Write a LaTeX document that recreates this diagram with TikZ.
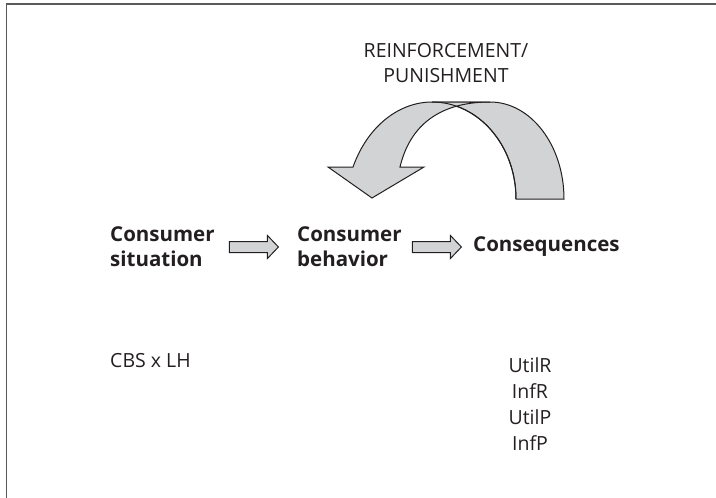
\documentclass[tikz,border=0pt]{standalone}
\usepackage{fontspec}
\setmainfont{Open Sans}
\usetikzlibrary{calc}
\definecolor{bandgray}{HTML}{D1D3D4}
\definecolor{framegray}{HTML}{5A5A5A}
\definecolor{ink}{HTML}{231F20}
\begin{document}
\begin{tikzpicture}[x=1pt,y=-1pt,
  lbl/.style={inner sep=0pt, text=ink, font=\fontsize{19.5}{25}\selectfont},
  boldlbl/.style={lbl, font=\fontsize{20.5}{25}\selectfont\bfseries, align=left},
  shapeline/.style={draw=ink, line width=1pt, line join=miter, fill=bandgray},
  blockarrow/.style={shapeline, to path={
    ($(\tikztostart)+(0,-5.5)$) -- ($(\tikztotarget)+(-11,-5.5)$) -- ($(\tikztotarget)+(-11,-11.5)$)
    -- (\tikztotarget) -- ($(\tikztotarget)+(-11,11.5)$) -- ($(\tikztotarget)+(-11,5.5)$)
    -- ($(\tikztostart)+(0,5.5)$) -- cycle}}
]
\useasboundingbox (0,0) rectangle (716,498);
\draw[framegray, line width=1.4pt] (6.5,498) -- (6.5,4) -- (716,4);

% curved reinforcement arrow
\filldraw[shapeline] (516,199) -- (564,199)
  .. controls (564,145.4) and (530.9,102) .. (490,102) -- (432,102)
  .. controls (478.4,102) and (516,145.4) .. (516,199) -- cycle;
\filldraw[shapeline] (432,102) .. controls (400,102) and (368,125) .. (353,167)
  -- (328,167) -- (372,198) -- (424,167) -- (400,167)
  .. controls (410,125) and (440,102) .. (490,102) -- cycle;
\draw[draw=ink, line width=1pt] (432,102) .. controls (478.4,102) and (516,145.4) .. (516,199);

\node[lbl, align=center, anchor=north] (rp) at (446,43) {REINFORCEMENT/\\PUNISHMENT};

\node[boldlbl, anchor=west] (cs) at (110,247) {Consumer\\situation};
\node[boldlbl, anchor=west] (cb) at (297,247) {Consumer\\behavior};
\node[boldlbl, anchor=west] (cq) at (473,247) {Consequences};

\coordinate (g1) at ($(cs.east)!0.5!(cb.west)$);
\coordinate (g2) at ($(cb.east)!0.5!(cq.west)$);
\draw[blockarrow] ($(g1)+(-26.5,0)$) to ($(g1)+(22.5,0)$);
\draw[blockarrow] ($(g2)+(-25,0)$) to ($(g2)+(24,0)$);

\node[lbl, anchor=base west] (cbs) at (110,367) {CBS x LH};
\node[lbl, align=center, anchor=north, font=\fontsize{19.5}{26}\selectfont] (util) at (530,357) {UtilR\\InfR\\UtilP\\InfP};
\end{tikzpicture}
\end{document}
